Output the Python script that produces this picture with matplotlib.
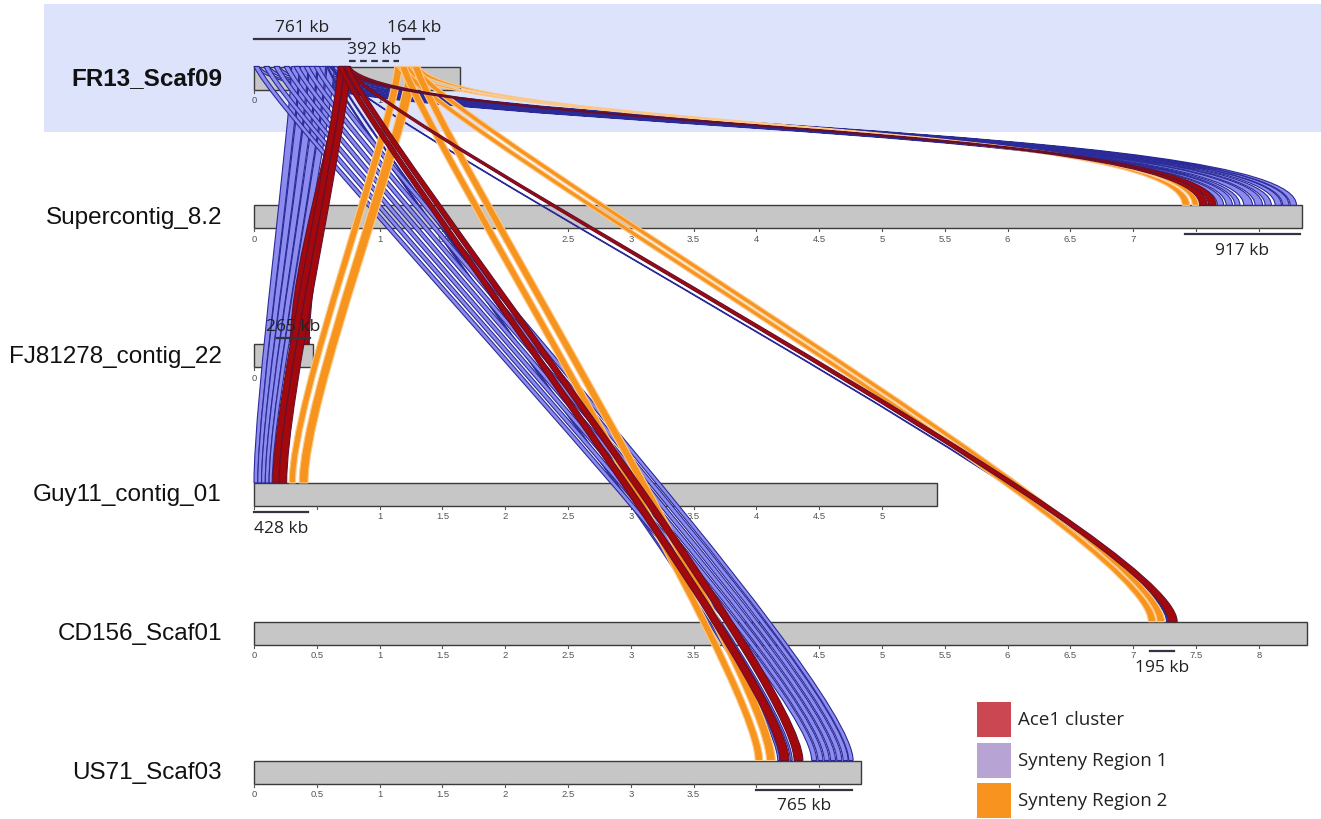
import numpy as np
import matplotlib
matplotlib.use('Agg')
import matplotlib.pyplot as plt
from matplotlib.path import Path
from matplotlib.patches import PathPatch, Rectangle

# contigs from top to bottom, lengths in Mb
contig_names = ['FR13_Scaf09', 'Supercontig_8.2', 'FJ81278_contig_22',
                'Guy11_contig_01', 'CD156_Scaf01', 'US71_Scaf03']
contig_lengths = [1.64, 8.34, 0.47, 5.44, 8.38, 4.83]

# size brackets: contig row, start (Mb), size (kb)
bracket_rows = [0, 0, 0, 1, 2, 3, 4, 5]
bracket_start = [0.0, 0.76, 1.19, 7.41, 0.18, 0.0, 7.13, 4.0]
bracket_kb = [761, 392, 164, 917, 265, 428, 195, 765]

# links from FR13_Scaf09: (query start, query end, target start, target end, group) in Mb
links_supercontig = [
    (0.00, 0.04, 7.67, 7.72, 'r1'), (0.08, 0.12, 7.74, 7.79, 'r1'),
    (0.16, 0.20, 7.81, 7.85, 'r1'), (0.24, 0.28, 7.88, 7.95, 'r1'),
    (0.32, 0.36, 7.97, 8.03, 'r1'), (0.40, 0.44, 8.05, 8.10, 'r1'),
    (0.48, 0.52, 8.13, 8.18, 'r1'), (0.56, 0.60, 8.19, 8.24, 'r1'),
    (0.62, 0.66, 8.25, 8.30, 'r1'),
    (0.67, 0.71, 7.53, 7.59, 'ace1'), (0.72, 0.76, 7.60, 7.66, 'ace1'),
    (1.13, 1.19, 7.39, 7.45, 'r2'), (1.26, 1.32, 7.47, 7.52, 'r2'),
]
links_fj81278 = [
    (0.34, 0.40, 0.12, 0.16, 'r1'), (0.44, 0.50, 0.17, 0.21, 'r1'),
    (0.54, 0.60, 0.22, 0.27, 'r1'),
    (0.68, 0.75, 0.29, 0.44, 'ace1'),
]
links_guy11 = [
    (0.30, 0.36, 0.00, 0.03, 'r1'), (0.37, 0.43, 0.03, 0.06, 'r1'),
    (0.44, 0.50, 0.06, 0.09, 'r1'), (0.51, 0.57, 0.09, 0.12, 'r1'),
    (0.58, 0.64, 0.12, 0.145, 'r1'),
    (0.67, 0.72, 0.15, 0.20, 'ace1'), (0.72, 0.77, 0.20, 0.26, 'ace1'),
    (1.12, 1.18, 0.28, 0.33, 'r2'), (1.22, 1.30, 0.36, 0.43, 'r2'),
]
links_cd156 = [
    (1.14, 1.20, 7.12, 7.18, 'r2'), (1.24, 1.30, 7.19, 7.25, 'r2'),
    (0.60, 0.61, 7.265, 7.275, 'r1'),
    (0.70, 0.73, 7.28, 7.35, 'ace1'),
]
links_us71 = [
    (1.16, 1.22, 3.99, 4.05, 'r2'), (1.26, 1.32, 4.08, 4.15, 'r2'),
    (0.58, 0.59, 4.17, 4.185, 'r1'), (0.62, 0.63, 4.27, 4.285, 'r1'),
    (0.67, 0.71, 4.19, 4.26, 'ace1'), (0.72, 0.76, 4.30, 4.37, 'ace1'),
    (0.00, 0.04, 4.44, 4.48, 'r1'), (0.08, 0.12, 4.49, 4.53, 'r1'),
    (0.16, 0.20, 4.54, 4.58, 'r1'), (0.24, 0.28, 4.59, 4.63, 'r1'),
    (0.32, 0.36, 4.64, 4.68, 'r1'), (0.40, 0.44, 4.69, 4.73, 'r1'),
    (0.48, 0.52, 4.735, 4.77, 'r1'),
]
link_sets = {1: links_supercontig, 2: links_fj81278, 3: links_guy11,
             4: links_cd156, 5: links_us71}

legend_labels = ['Ace1 cluster', 'Synteny Region 1', 'Synteny Region 2']

# styles
fills = {'r1': '#8c8cef', 'ace1': '#a3080c', 'r2': '#f7941e'}
edges = {'r1': '#2a2a98', 'ace1': '#64102c', 'r2': '#fcc88a'}
legend_colors = ['#cb4853', '#b7a4d4', '#f7931e']

W, H = 1321, 820
X0, PX_MB = 254, 125.6     # pixel of 0 Mb, pixels per Mb
Y0, PX_ROW = 79, 138.8     # pixel of first row centre, pixels per row
HALF = 11.5 / PX_ROW       # half bar height


def px_x(p):
    return (p - X0) / PX_MB


def px_y(p):
    return (p - Y0) / PX_ROW


fig = plt.figure(figsize=(W / 100, H / 100), dpi=100)
ax = fig.add_axes([0, 0, 1, 1])
ax.set_xlim(px_x(0), px_x(W))
ax.set_ylim(px_y(H), px_y(0))
ax.axis('off')

# highlight of the reference contig
ax.add_patch(Rectangle((px_x(44), px_y(5)), px_x(W) - px_x(44), px_y(133) - px_y(5),
                       facecolor='#dde3fb', edgecolor='none', zorder=0))

# contig bars, ticks and names
for row, (name, length) in enumerate(zip(contig_names, contig_lengths)):
    ax.add_patch(Rectangle((0, row - HALF), length, 2 * HALF, facecolor='#c6c6c6',
                           edgecolor='#3a3a3a', lw=1.0, zorder=1))
    ax.text(px_x(222), row, name, ha='right', va='center', fontsize=17.5,
            family='Liberation Sans', fontweight='bold' if row == 0 else 'normal',
            color='#111111')
    # brackets drawn below this bar hide the tick labels they cover
    hidden = [(bracket_start[i] - 0.1, bracket_start[i] + bracket_kb[i] / 1000 + 0.1)
              for i in range(len(bracket_rows))
              if bracket_rows[i] == row and row in (1, 3, 4, 5)]
    for t in np.arange(0, length + 1e-9, 0.5):
        ax.plot([t, t], [row + HALF, row + HALF + 3 / PX_ROW], color='#555555',
                lw=0.8, zorder=1)
        if any(a <= t <= b for a, b in hidden):
            continue
        ax.text(t, row + HALF + 10 / PX_ROW, f'{t:g}', ha='center', va='center',
                fontsize=6.8, family='Liberation Sans', color='#555555', zorder=1)

# size brackets
for i, row in enumerate(bracket_rows):
    a = bracket_start[i]
    b = a + bracket_kb[i] / 1000
    label = f'{bracket_kb[i]} kb'
    if row in (1, 3, 4, 5):
        ly = row + HALF + 6 / PX_ROW
        ty = ly + 16 / PX_ROW
    elif bracket_kb[i] == 392 or row == 2:
        ly = row - HALF - 6 / PX_ROW
        ty = ly - 12 / PX_ROW
    else:
        ly = row - HALF - 28 / PX_ROW
        ty = ly - 12 / PX_ROW
    ls = (0, (3, 2)) if bracket_kb[i] == 392 else '-'
    ax.plot([a, b], [ly, ly], color='#333344', lw=1.6, ls=ls, zorder=6)
    ax.text((a + b) / 2, ty, label, ha='center', va='center', fontsize=12.5,
            family='Open Sans', color='#222222', zorder=6)


def ribbon(q0, q1, t0, t1, row):
    ys = -HALF
    yt = row - HALF
    c1, c2 = 0.45, 0.6
    verts = [(q0, ys), (q0 + 0.05 * (t0 - q0), ys + c1), (t0, yt - c2), (t0, yt),
             (t1, yt),
             (t1, yt - c2), (q1 + 0.05 * (t1 - q1), ys + c1), (q1, ys),
             (q0, ys)]
    codes = [Path.MOVETO, Path.CURVE4, Path.CURVE4, Path.CURVE4, Path.LINETO,
             Path.CURVE4, Path.CURVE4, Path.CURVE4, Path.CLOSEPOLY]
    return Path(verts, codes)


for z, group in enumerate(['r1', 'r2', 'ace1']):
    for row, links in link_sets.items():
        for q0, q1, t0, t1, g in links:
            if g != group:
                continue
            ax.add_patch(PathPatch(ribbon(q0, q1, t0, t1, row), facecolor=fills[g],
                                   edgecolor=edges[g], lw=0.8, zorder=2 + z))

# legend
for i, (lab, col) in enumerate(zip(legend_labels, legend_colors)):
    top = 703 + 40.5 * i
    fig.add_artist(Rectangle((977 / W, 1 - (top + 35) / H), 34 / W, 35 / H,
                             transform=fig.transFigure, facecolor=col,
                             edgecolor='none'))
    fig.text(1018 / W, 1 - (top + 17.5) / H, lab, ha='left', va='center',
             fontsize=13.5, family='Open Sans', color='#222222')

fig.savefig('out.png', dpi=100)
